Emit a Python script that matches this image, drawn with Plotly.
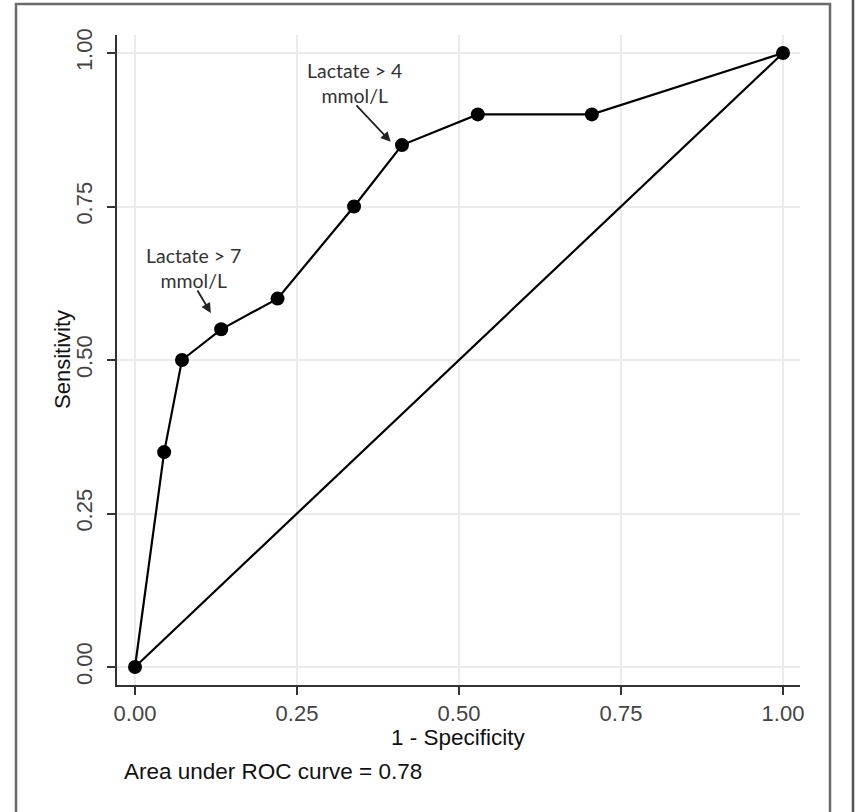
import plotly.graph_objects as go

# ---- data ----
fpr = [0.0, 0.045, 0.0725, 0.133, 0.22, 0.338, 0.412, 0.529, 0.705, 1.0]
tpr = [0.0, 0.35, 0.50, 0.55, 0.60, 0.75, 0.85, 0.90, 0.90, 1.0]
diag_x = [0.0, 1.0]
diag_y = [0.0, 1.0]
tick_vals = [0.0, 0.25, 0.5, 0.75, 1.0]
tick_text = ["0.00", "0.25", "0.50", "0.75", "1.00"]
x_title = "1 - Specificity"
y_title = "Sensitivity"
auc_text = "Area under ROC curve = 0.78"
labels = ["Lactate > 7<br>mmol/L", "Lactate > 4<br>mmol/L"]
label_x = [0.0895, 0.338]
label_y = [0.65, 0.951]
arrow_head_x = [0.117, 0.3946]
arrow_head_y = [0.5765, 0.8555]
arrow_tail_x = [0.095, 0.3395]
arrow_tail_y = [0.6156, 0.917]

# ---- layout geometry (pixels) ----
W, H = 859, 812
L, R, T, B = 117, 800, 35, 685
pw, ph = R - L, B - T


def px_x(p):
    return (p - L) / pw


def px_y(p):
    return (B - p) / ph


fig = go.Figure()
fig.add_trace(go.Scatter(x=diag_x, y=diag_y, mode="lines",
                         line=dict(color="black", width=2.2), hoverinfo="skip",
                         showlegend=False))
fig.add_trace(go.Scatter(x=fpr, y=tpr, mode="lines+markers",
                         line=dict(color="black", width=2.2),
                         marker=dict(color="black", size=14),
                         showlegend=False))

annotations = []
for t, x, y in zip(labels, label_x, label_y):
    annotations.append(dict(x=x, y=y, xref="x", yref="y", text=t, showarrow=False,
                            font=dict(family="Lato", size=19.5, color="#333333"),
                            align="center", xanchor="center", yanchor="middle"))
for hx, hy, tx, ty in zip(arrow_head_x, arrow_head_y, arrow_tail_x, arrow_tail_y):
    annotations.append(dict(x=hx, y=hy, xref="x", yref="y", ax=tx, ay=ty,
                            axref="x", ayref="y", text="", showarrow=True,
                            arrowhead=2, arrowsize=1.1, arrowwidth=1.8,
                            arrowcolor="#222222"))

annotations.append(dict(x=0.5, y=px_y(737), xref="paper", yref="paper", text=x_title,
                        showarrow=False, xanchor="center", yanchor="middle",
                        font=dict(family="Liberation Sans", size=22.5, color="#111111")))
annotations.append(dict(x=px_x(62), y=0.5, xref="paper", yref="paper", text=y_title,
                        showarrow=False, xanchor="center", yanchor="middle", textangle=-90,
                        font=dict(family="Liberation Sans", size=22, color="#111111")))
annotations.append(dict(x=px_x(122), y=px_y(772), xref="paper", yref="paper", text=auc_text,
                        showarrow=False, xanchor="left", yanchor="middle",
                        font=dict(family="Liberation Sans", size=22.5, color="#111111")))

shapes = [
    dict(type="rect", xref="paper", yref="paper",
         x0=px_x(16), x1=px_x(830), y0=px_y(830), y1=px_y(4),
         line=dict(color="#6a6a6a", width=2.5), fillcolor="rgba(0,0,0,0)", layer="below"),
    dict(type="line", xref="paper", yref="paper",
         x0=px_x(853), x1=px_x(853), y0=px_y(830), y1=px_y(-5),
         line=dict(color="#555555", width=2.5)),
]

axis_common = dict(
    tickvals=tick_vals, ticktext=tick_text,
    showgrid=True, gridcolor="#ebebeb", gridwidth=1.5,
    showline=True, linecolor="#333333", linewidth=1.5,
    ticks="outside", ticklen=8, tickwidth=1.5, tickcolor="#333333",
    zeroline=False,
)

fig.update_layout(
    width=W, height=H,
    margin=dict(l=L, r=W - R, t=T, b=H - B, pad=0),
    paper_bgcolor="white", plot_bgcolor="white",
    xaxis=dict(range=[(L - 135) / 648, (R - 135) / 648],
               tickfont=dict(family="Liberation Sans", size=22, color="#444444"),
               **axis_common),
    yaxis=dict(range=[(667 - B) / 614, (667 - T) / 614], tickangle=-90,
               ticklabelstandoff=6,
               tickfont=dict(family="Liberation Sans", size=22, color="#444444"),
               **axis_common),
    annotations=annotations, shapes=shapes,
    showlegend=False,
)

fig.write_html("out.html")
